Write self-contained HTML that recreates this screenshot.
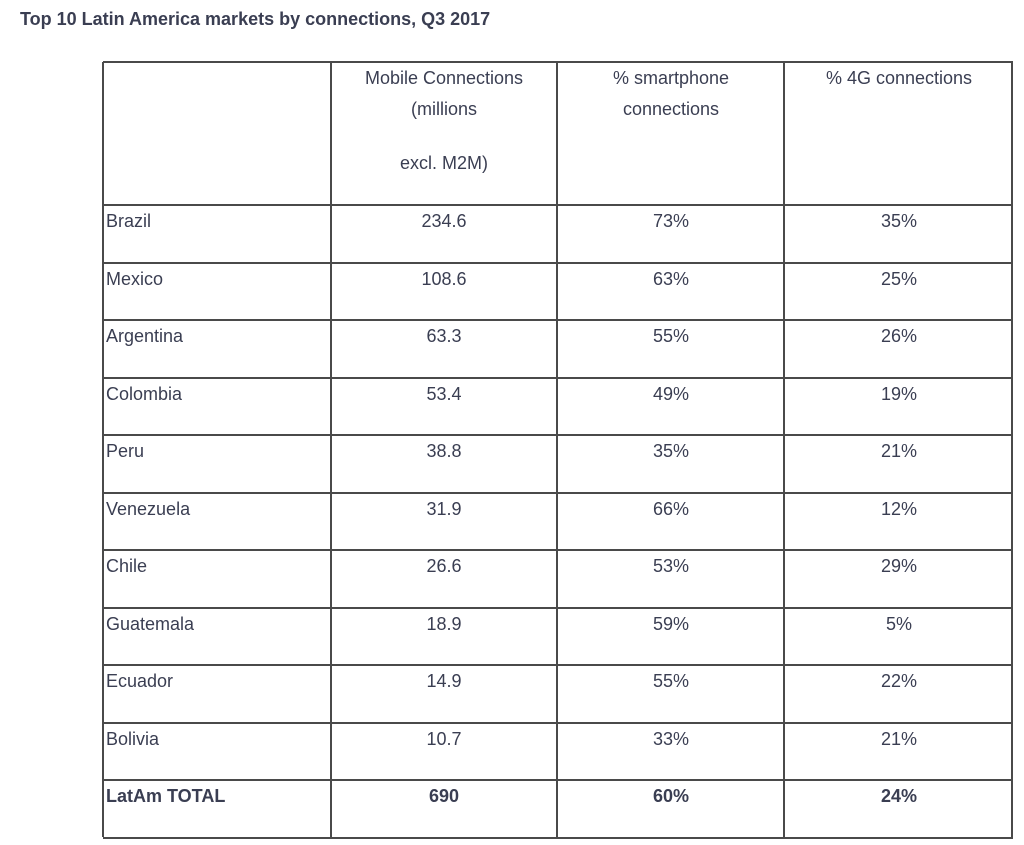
<!DOCTYPE html>
<html><head><meta charset="utf-8"><style>
body{margin:0;width:1024px;height:845px;background:#fff;position:relative;overflow:hidden;font-family:"Liberation Sans",sans-serif;color:#3a3e52}
.t{position:absolute;font-size:18px;line-height:20px;white-space:nowrap}
.c{transform:translateX(-50%)}
.h{position:absolute;height:2px;background:#4a4a4a;left:103px;width:910px}
.v{position:absolute;width:2px;background:#4a4a4a;top:62px;height:775px}
</style></head><body>
<div class="t" style="left:20px;top:9px;font-size:18px;font-weight:bold;color:#3a3e52">Top 10 Latin America markets by connections, Q3 2017</div>
<div id="grid"></div>
<div class="t c" style="left:444px;top:68px">Mobile Connections</div>
<div class="t c" style="left:444px;top:99px">(millions</div>
<div class="t c" style="left:444px;top:153px">excl. M2M)</div>
<div class="t c" style="left:671px;top:68px">% smartphone</div>
<div class="t c" style="left:671px;top:99px">connections</div>
<div class="t c" style="left:899px;top:68px">% 4G connections</div>
<div id="rows"></div>
<script>
const countries=["Brazil","Mexico","Argentina","Colombia","Peru","Venezuela","Chile","Guatemala","Ecuador","Bolivia","LatAm TOTAL"];
const connections=["234.6","108.6","63.3","53.4","38.8","31.9","26.6","18.9","14.9","10.7","690"];
const smartphone=["73%","63%","55%","49%","35%","66%","53%","59%","55%","33%","60%"];
const fourG=["35%","25%","26%","19%","21%","12%","29%","5%","22%","21%","24%"];
const g=document.getElementById('grid');
const rowTops=[];for(let i=0;i<=11;i++)rowTops.push(205+i*57.5);
[62].concat(rowTops).forEach(y=>{const d=document.createElement('div');d.className='h';d.style.top=(y-1)+'px';


g.appendChild(d);});
[103,331,557,784,1012].forEach(x=>{const d=document.createElement('div');d.className='v';d.style.left=(x-1)+'px';


g.appendChild(d);});
const r=document.getElementById('rows');
function cell(txt,x,y,center,bold,name){const d=document.createElement('div');d.className='t'+(center?' c':'');d.style.left=x+'px';d.style.top=y+'px';if(bold)d.style.fontWeight='bold';d.textContent=txt;


r.appendChild(d);}
countries.forEach((c,i)=>{const y=rowTops[i]+6;const b=i===10;
cell(c,106,y,false,b,'country-label');
cell(connections[i],444,y,true,b,'connections-value');
cell(smartphone[i],671,y,true,b,'smartphone-value');
cell(fourG[i],899,y,true,b,'4g-value');});
</script>
</body></html>
